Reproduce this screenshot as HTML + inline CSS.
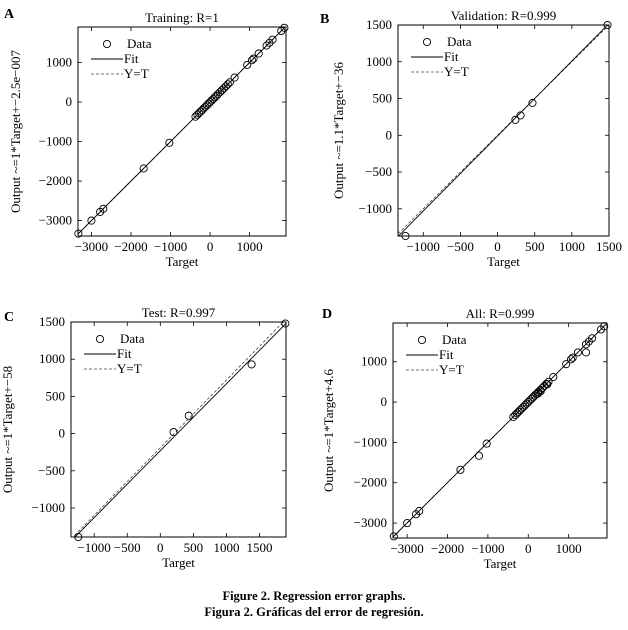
<!DOCTYPE html>
<html><head><meta charset="utf-8">
<style>
html,body{margin:0;padding:0;background:#fff;}
svg{display:block;font-family:"Liberation Serif",serif;}
</style></head>
<body>
<svg id="fig" width="628" height="630" viewBox="0 0 628 630">
<text x="314" y="600" text-anchor="middle" font-size="12.5" font-weight="bold">Figure 2. Regression error graphs.</text>
<text x="314" y="616" text-anchor="middle" font-size="12.5" font-weight="bold">Figura 2. Gráficas del error de regresión.</text>
</svg>
<script>
// Panel A: Training
const trainTargets = [-3330,-3000,-2780,-2700,-1680,-1030,-370,-320,-280,-240,-200,-160,-120,-80,-40,0,40,80,120,160,200,250,300,350,400,450,500,620,940,1060,1100,1230,1430,1500,1580,1800,1880];
const trainOutputs = [-3330,-3000,-2780,-2700,-1680,-1030,-370,-320,-280,-240,-200,-160,-120,-80,-40,0,40,80,120,160,200,250,300,350,400,450,500,620,940,1060,1100,1230,1430,1500,1580,1800,1880];
const trainXTicks = [-3000,-2000,-1000,0,1000];
const trainYTicks = [-3000,-2000,-1000,0,1000];
// Panel B: Validation
const valTargets = [-1240,240,310,470,1480];
const valOutputs = [-1370,210,270,440,1500];
const valXTicks = [-1000,-500,0,500,1000,1500];
const valYTicks = [-1000,-500,0,500,1000,1500];
// Panel C: Test
const testTargets = [-1240,200,430,1380,1890];
const testOutputs = [-1390,20,240,930,1480];
const testXTicks = [-1000,-500,0,500,1000,1500];
const testYTicks = [-1000,-500,0,500,1000,1500];
// Panel D: All
const allTargets = trainTargets.concat(valTargets.slice(1,4), [-1220,1430]);
const allOutputs = trainOutputs.concat(valOutputs.slice(1,4), [-1330,1230]);
const allXTicks = [-3000,-2000,-1000,0,1000];
const allYTicks = [-3000,-2000,-1000,0,1000];

const NS = "http://www.w3.org/2000/svg";
const svg = document.getElementById('fig');
function mk(tag, attrs, parent){
  const e = document.createElementNS(NS, tag);
  for (const k in attrs) e.setAttribute(k, attrs[k]);
  (parent||svg).appendChild(e);
  return e;
}
function fmt(v){ return v<0 ? '\u2212'+Math.abs(v) : String(v); }

function panel(cfg){
  const g = mk('g', {});
  
  
  const {x0,x1,y0,y1,xmin,xmax,ymin,ymax} = cfg;
  const sx = v => x0 + (v-xmin)/(xmax-xmin)*(x1-x0);
  const sy = v => y1 - (v-ymin)/(ymax-ymin)*(y1-y0);
  const L = mk('text', {x:cfg.lx, y:cfg.ly, 'font-size':14, 'font-weight':'bold'}, g);
  L.textContent = cfg.letter;
  
  
  const T = mk('text', {x:(x0+x1)/2, y:y0-5, 'text-anchor':'middle', 'font-size':13}, g);
  T.textContent = cfg.title;
  
  
  cfg.xticks.forEach(v=>{
    const px = sx(v);
    mk('line',{x1:px,x2:px,y1:y1,y2:y1-4,stroke:'#000','stroke-width':0.8},g);
    mk('line',{x1:px,x2:px,y1:y0,y2:y0+4,stroke:'#000','stroke-width':0.8},g);
    const t = mk('text',{x:px,y:y1+15,'text-anchor':'middle','font-size':13},g);
    t.textContent = fmt(v);
    
    
  });
  cfg.yticks.forEach(v=>{
    const py = sy(v);
    mk('line',{x1:x0,x2:x0+4,y1:py,y2:py,stroke:'#000','stroke-width':0.8},g);
    mk('line',{x1:x1,x2:x1-4,y1:py,y2:py,stroke:'#000','stroke-width':0.8},g);
    const t = mk('text',{x:x0-6,y:py+4,'text-anchor':'end','font-size':13},g);
    t.textContent = fmt(v);
    
    
  });
  const xl = mk('text',{x:(x0+x1)/2,y:y1+30,'text-anchor':'middle','font-size':13},g);
  xl.textContent = 'Target';
  
  
  const yl = mk('text',{x:0,y:0,'text-anchor':'middle','font-size':13,transform:`translate(${cfg.ylx},${(y0+y1)/2}) rotate(-90)`},g);
  yl.textContent = cfg.ylabel;
  
  
  const cid = 'c'+cfg.letter;
  const cp = mk('clipPath',{id:cid},g);
  mk('rect',{x:x0,y:y0,width:x1-x0,height:y1-y0},cp);
  const pg = mk('g',{'clip-path':`url(#${cid})`},g);
  const r = v => cfg.rs*v + cfg.ri;
  const yt = mk('line',{x1:sx(xmin),y1:sy(r(xmin)),x2:sx(xmax),y2:sy(r(xmax)),stroke:'#444','stroke-width':0.8,'stroke-dasharray':'3,2'},pg);
  
  
  const f = v => cfg.slope*v + cfg.icpt;
  const fl = mk('line',{x1:sx(xmin),y1:sy(f(xmin)),x2:sx(xmax),y2:sy(f(xmax)),stroke:'#000','stroke-width':0.9},pg);
  
  
  cfg.tx.forEach((v,i)=>{
    const c = mk('circle',{cx:sx(v),cy:sy(cfg.ty[i]),r:3.6,fill:'none',stroke:'#000','stroke-width':0.9},g);
    
    
  });
  mk('rect',{x:x0,y:y0,width:x1-x0,height:y1-y0,fill:'none',stroke:'#000','stroke-width':1},g);
  const lx = x0+13, ly = y0+21;
  const lg = mk('g',{},g);
  
  
  mk('circle',{cx:lx+16,cy:ly-4,r:3.6,fill:'none',stroke:'#000','stroke-width':0.9},lg);
  mk('line',{x1:lx,x2:lx+32,y1:ly+11,y2:ly+11,stroke:'#000','stroke-width':0.9},lg);
  mk('line',{x1:lx,x2:lx+32,y1:ly+26,y2:ly+26,stroke:'#444','stroke-width':0.8,'stroke-dasharray':'3,2'},lg);
  [['Data',ly,lx+36],['Fit',ly+15,lx+33],['Y=T',ly+30,lx+33]].forEach(([s,yy,xx])=>{
    const t = mk('text',{x:xx,y:yy,'font-size':13},lg);
    t.textContent = s;
    
    
  });
}

panel({name:'panel-training',letter:'A',lx:4,ly:18,title:'Training: R=1',x0:78,x1:286,y0:27,y1:236,xmin:-3340,xmax:1920,ymin:-3390,ymax:1900,xticks:trainXTicks,yticks:trainYTicks,tx:trainTargets,ty:trainOutputs,slope:1,icpt:0,rs:1,ri:0,ylabel:'Output ~=1*Target+\u22122.5e\u2212007',ylx:20});
panel({name:'panel-validation',letter:'B',lx:320,ly:23,title:'Validation: R=0.999',x0:398,x1:609,y0:25,y1:236,xmin:-1340,xmax:1500,ymin:-1370,ymax:1500,xticks:valXTicks,yticks:valYTicks,tx:valTargets,ty:valOutputs,slope:1.02,icpt:-10,rs:1,ri:0,ylabel:'Output ~=1.1*Target+\u221236',ylx:343});
panel({name:'panel-test',letter:'C',lx:4,ly:321,title:'Test: R=0.997',x0:71,x1:286,y0:322,y1:537,xmin:-1350,xmax:1900,ymin:-1390,ymax:1500,xticks:testXTicks,yticks:testYTicks,tx:testTargets,ty:testOutputs,slope:0.9,icpt:-230,rs:0.91,ri:-190,ylabel:'Output ~=1*Target+\u221258',ylx:12});
panel({name:'panel-all',letter:'D',lx:322,ly:318,title:'All: R=0.999',x0:393,x1:607,y0:323,y1:538,xmin:-3350,xmax:1950,ymin:-3370,ymax:1960,xticks:allXTicks,yticks:allYTicks,tx:allTargets,ty:allOutputs,slope:1,icpt:4.6,rs:1,ri:0,ylabel:'Output ~=1*Target+4.6',ylx:333});
</script>
</body></html>
